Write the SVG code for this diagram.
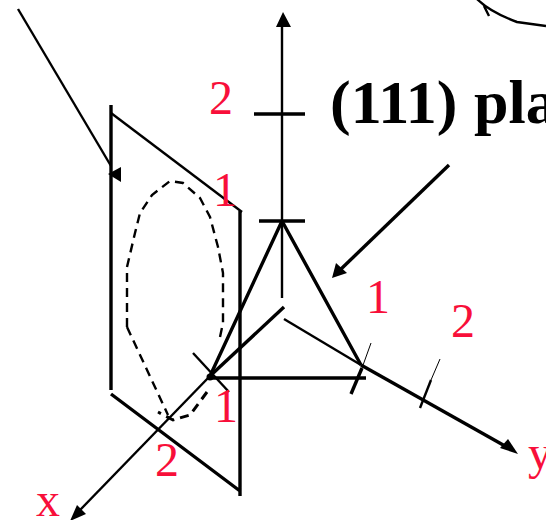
<svg xmlns="http://www.w3.org/2000/svg" width="546" height="520" viewBox="0 0 546 520">
<style>
.l{fill:none;stroke:#000;stroke-width:2.4}
.t{fill:none;stroke:#000;stroke-width:3.4}
.f{fill:#000;stroke:none}
.d{fill:none;stroke:#000;stroke-width:2.4;stroke-dasharray:9 6}
.r{font-family:"Liberation Serif","Times New Roman",serif;font-size:48px;fill:#f80f3a}
.b{font-family:"Liberation Serif","Times New Roman",serif;font-size:62px;font-weight:bold;fill:#000}
</style>
<rect width="546" height="520" fill="#fff"/>
<g id="connectors">
<path class="l" d="M18 9L111 166"/>
<polygon class="f" points="121,167 121,182 108,174"/>
<path class="l" d="M477 -1Q490 12 517 22L546 26M489 16L484 6"/>
<path class="t" d="M449 165L340 270"/>
<polygon class="f" points="332,278 336,263 347,273"/>
</g>
<g id="plane">
<path class="t" d="M111 105V390M240 211V496M111 394L240 491"/>
<path class="l" d="M111 113L242 212"/>
<path class="d" d="M127 327V267L135 233L140 213L152 195L170 181L183 183L200 198L210 217L218 247L223 273V323L220 337"/>
<path class="d" d="M127 327L168 415"/>
<path class="d" style="stroke-width:3" d="M207 392L190 415L173 420L158 412"/>
</g>
<g id="axes">
<path class="l" d="M282 298V25"/>
<polygon class="f" points="283,12 276,27 291,27"/>
<path class="t" d="M254 114H305M259 221H305"/>
<path class="t" d="M284 307L210 376"/>
<path class="l" d="M210 376L80 510"/>
<polygon class="f" points="70,521 77,505 86,514"/>
<path class="l" d="M284 319L361 365"/>
<path class="t" d="M361 365L505 446"/>
<polygon class="f" points="518,454 500,448 508,439"/>
<path class="l" d="M193 353L229 392"/>
<path class="l" d="M420 408L431 380" />
<path d="M431 380L440 359" fill="none" stroke="#000" stroke-width="1"/>
<path class="t" d="M351 394L362 368"/>
<path d="M362 368L371 343" fill="none" stroke="#000" stroke-width="1"/>
</g>
<g id="triangle">
<path class="t" d="M282 221L361 365M282 221L210 376M210 378H366"/>
<circle class="f" cx="210" cy="377" r="3.5"/>
</g>
<g id="labels">
<text class="r" x="209" y="114">2</text>
<text class="r" x="213" y="206">1</text>
<text class="r" x="366" y="313">1</text>
<text class="r" x="451" y="337">2</text>
<text class="r" x="214" y="422">1</text>
<text class="r" x="155" y="476">2</text>
<text class="r" x="36" y="516">x</text>
<text class="r" x="528" y="469">y</text>
<text class="b" x="330" y="123">(111)<tspan x="474">pla</tspan></text>
</g>
</svg>
